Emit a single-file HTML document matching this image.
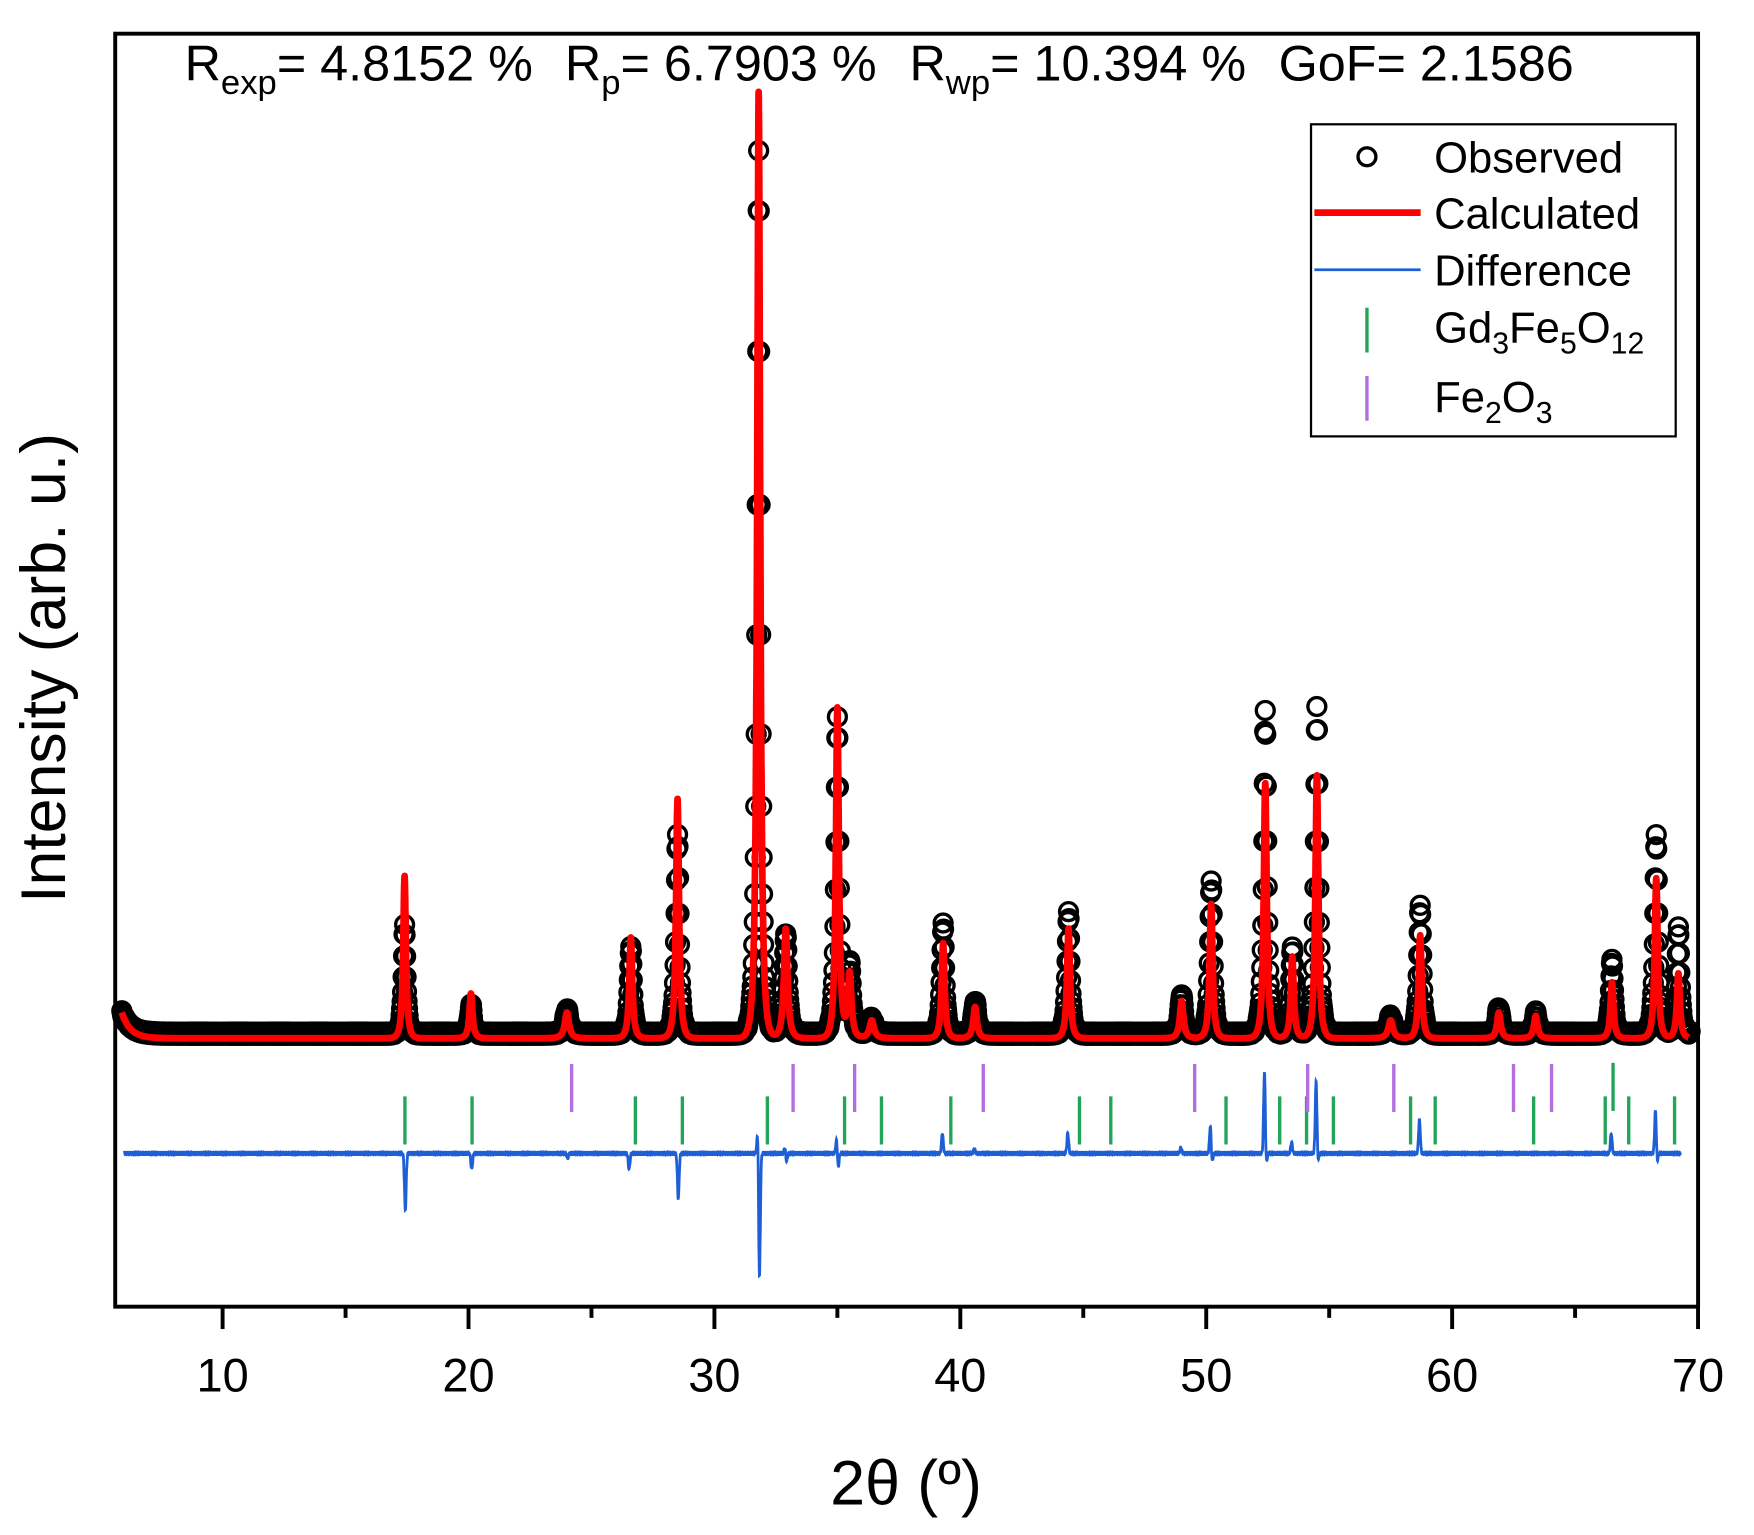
<!DOCTYPE html>
<html><head><meta charset="utf-8"><style>
html,body{margin:0;padding:0;background:#fff}
svg{display:block}
text{font-family:"Liberation Sans",Arial,sans-serif;fill:#000}
</style></head><body>
<svg id="s" width="1754" height="1535" viewBox="0 0 1568 1372" xmlns="http://www.w3.org/2000/svg">
<rect width="1568" height="1372" fill="#fff"/>
<g id="obs"></g>
<path id="calc" fill="none" stroke="#f00" stroke-width="6" stroke-linejoin="round"/>
<g id="ticks"></g>
<path id="diff" fill="none" stroke="#1f5fd6" stroke-width="2.5"/>
<rect x="103" y="30" width="1415" height="1138" fill="none" stroke="#000" stroke-width="3.5"/>
<g id="ax"></g>
<text font-size="45" y="72"><tspan x="165">R</tspan><tspan font-size="31" dy="12">exp</tspan><tspan dy="-12">= 4.8152 %</tspan></text>
<text font-size="45" y="72"><tspan x="505">R</tspan><tspan font-size="31" dy="12">p</tspan><tspan dy="-12">= 6.7903 %</tspan></text>
<text font-size="45" y="72"><tspan x="813">R</tspan><tspan font-size="31" dy="12">wp</tspan><tspan dy="-12">= 10.394 %</tspan></text>
<text font-size="45" y="72" x="1143">GoF= 2.1586</text>
<rect x="1172" y="111" width="326" height="279" fill="#fff" stroke="#000" stroke-width="2"/>
<circle cx="1222" cy="140" r="8" fill="none" stroke="#000" stroke-width="3"/>
<line x1="1175" y1="190" x2="1270" y2="190" stroke="#f00" stroke-width="6"/>
<line x1="1175" y1="241" x2="1270" y2="241" stroke="#1f5fd6" stroke-width="2.5"/>
<line x1="1222" y1="275" x2="1222" y2="315" stroke="#22a559" stroke-width="3"/>
<line x1="1222" y1="336" x2="1222" y2="376" stroke="#b36ee0" stroke-width="3"/>
<text font-size="39" x="1282" y="154">Observed</text>
<text font-size="39" x="1282" y="204">Calculated</text>
<text font-size="39" x="1282" y="255">Difference</text>
<text font-size="39" x="1282" y="306">Gd<tspan font-size="27" dy="10">3</tspan><tspan dy="-10">Fe</tspan><tspan font-size="27" dy="10">5</tspan><tspan dy="-10">O</tspan><tspan font-size="27" dy="10">12</tspan></text>
<text font-size="39" x="1282" y="368">Fe<tspan font-size="27" dy="10">2</tspan><tspan dy="-10">O</tspan><tspan font-size="27" dy="10">3</tspan></text>
<text font-size="56" x="810" y="1345" text-anchor="middle">2θ (º)</text>
<text font-size="56" transform="translate(58,597) rotate(-90)" text-anchor="middle">Intensity (arb. u.)</text>
</svg>
<script>
function X(t){return 199+(t-10)*21.983;}
var P=[[17.4,783,828,.09],[20.1,888,898,.1],[24.0,905,902,.14],[26.6,838,845,.1],[28.5,714,745,.1],
[31.8,82,133,.1],[32.9,830,835,.12],[35.0,633,640,.1],[35.5,870,860,.12],[36.4,912,910,.15],[39.3,843,825,.1],
[40.6,900,895,.12],[44.4,830,815,.1],[49.0,895,888,.12],[50.2,808,787,.1],[52.4,700,635,.1],[53.5,855,845,.1],
[54.5,693,633,.1],[57.5,912,908,.15],[58.7,836,808,.1],[61.9,905,900,.12],[63.4,908,905,.12],[66.5,878,858,.1],
[68.3,785,745,.1],[69.2,870,830,.1]];
var base=928, obase=924;
function prof(t,red){var y=0;var b=red?base:obase;
 y+= (b-905)*Math.exp(-(t-5.9)/0.35);
 for(var i=0;i<P.length;i++){var p=P[i],h=b-(red?p[1]:p[2]),d=(t-p[0])/p[3];y+=h/(1+d*d*1.8)*Math.exp(-d*d*0.05);}
 return b-y;}
var d="";for(var t=5.9;t<=69.6;t+=0.005){d+=(d?"L":"M")+X(t).toFixed(1)+","+prof(t,1).toFixed(1);}
document.getElementById("calc").setAttribute("d",d);
var g=document.getElementById("obs"),h="";
for(var t=5.9;t<=69.7;t+=0.02){var y=prof(t,0)+(Math.sin(t*53)*1.5);
 h+='<circle cx="'+X(t).toFixed(1)+'" cy="'+y.toFixed(1)+'" r="8" fill="none" stroke="#000" stroke-width="3"/>';}
g.innerHTML=h;
var D=[[17.4,-50,0],[20.1,-14,0],[26.5,-14,0],[28.5,-40,0],[31.8,-115,28],[35.0,-14,14],[39.3,0,18],[44.4,0,18],
[50.2,-10,26],[52.4,-14,76],[53.5,0,10],[54.5,-10,66],[58.7,0,30],[66.5,0,18],[68.3,-10,40],[32.9,-8,6],[24,-4,0],[49,0,5],[40.6,0,4]];
var dd="";for(var t=6.0;t<=69.3;t+=0.005){var y=1031;for(var i=0;i<D.length;i++){var q=D[i];
 var a=(t-(q[0]+0.03))/0.05,b=(t-(q[0]-0.03))/0.05;y-=q[1]*Math.exp(-a*a); y-=q[2]*Math.exp(-b*b);}
 y+=Math.sin(t*97)*1;dd+=(dd?"L":"M")+X(t).toFixed(1)+","+y.toFixed(1);}
document.getElementById("diff").setAttribute("d",dd);
var G=[362,422,568,610,686,755,788,850,965,993,1096,1144,1168,1192,1261,1283,1371,1435,1456,1497],Pp=[511,709,764,879,1068,1169,1246,1353,1387];
var th="";G.forEach(function(x){th+='<line x1="'+x+'" y1="980" x2="'+x+'" y2="1023" stroke="#22a559" stroke-width="3"/>';});
th+='<line x1="1442" y1="950" x2="1442" y2="993" stroke="#22a559" stroke-width="3"/>';
Pp.forEach(function(x){th+='<line x1="'+x+'" y1="951" x2="'+x+'" y2="994" stroke="#b36ee0" stroke-width="3"/>';});
document.getElementById("ticks").innerHTML=th;
var ax="";for(var v=10;v<=70;v+=5){var x=X(v),L=(v%10==0)?20:10;
 ax+='<line x1="'+x+'" y1="1168" x2="'+x+'" y2="'+(1168+L)+'" stroke="#000" stroke-width="3.5"/>';
 if(v%10==0)ax+='<text font-size="42" x="'+x+'" y="1244" text-anchor="middle">'+v+'</text>';}
document.getElementById("ax").innerHTML=ax;
</script>
</body></html>
